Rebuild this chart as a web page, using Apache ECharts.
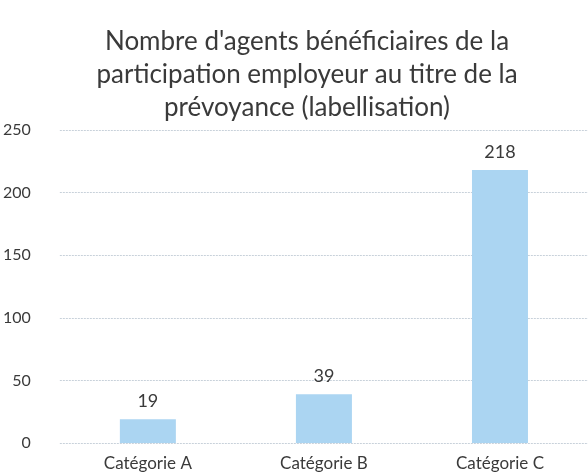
<!DOCTYPE html>
<html>
<head>
<meta charset="utf-8">
<script src="https://cdn.jsdelivr.net/npm/echarts@6/dist/echarts.min.js"></script>
<style>
  html, body { margin: 0; padding: 0; background: #fff; }
  #chart { width: 588px; height: 475px; }
</style>
</head>
<body>
<div id="chart"></div>
<script>
const categories = ['Catégorie A', 'Catégorie B', 'Catégorie C']
const agents = [19, 39, 218]
const yTicks = { min: 0, max: 250, interval: 50 }

const chart = echarts.init(document.getElementById('chart'))
const font = 'Lato, "Open Sans", sans-serif'

chart.setOption({
  animation: false,
  title: {
    text: "Nombre d'agents bénéficiaires de la\nparticipation employeur au titre de la\nprévoyance (labellisation)",
    left: 302, top: 20, textAlign: 'center',
    textStyle: { fontFamily: font, fontSize: 26, fontWeight: 'normal', color: '#3a3a3a', lineHeight: 33 }
  },
  grid: { left: 51, right: 0, top: 130, bottom: 32 },
  xAxis: {
    type: 'category',
    data: categories,
    axisLine: { show: false },
    axisTick: { show: false },
    axisLabel: { fontFamily: font, fontSize: 17, color: '#3a3a3a', margin: 12 }
  },
  yAxis: {
    type: 'value',
    min: yTicks.min, max: yTicks.max, interval: yTicks.interval,
    axisLabel: { fontFamily: font, fontSize: 16, color: '#3a3a3a', margin: 29 },
    splitLine: { lineStyle: { color: '#c8d1da', type: [2, 1], width: 1 } }
  },
  series: [{
    type: 'bar',
    data: agents,
    barWidth: 56,
    itemStyle: { color: '#abd5f2' },
    label: { show: true, position: 'top', distance: 9, fontFamily: font, fontSize: 18, color: '#3a3a3a' }
  }]
})
</script>
</body>
</html>
